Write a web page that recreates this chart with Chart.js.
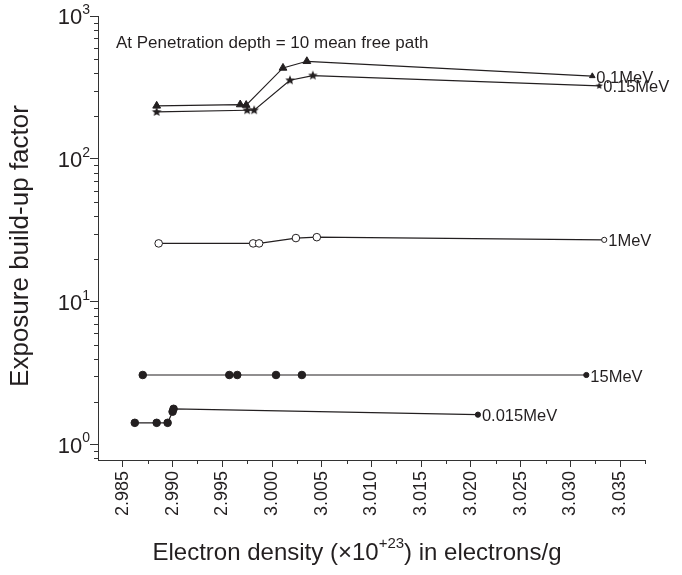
<!DOCTYPE html>
<html>
<head>
<meta charset="utf-8">
<script src="https://cdn.jsdelivr.net/npm/chart.js@4"></script>
<style>
  html, body { margin: 0; background: #fff; }
</style>
</head>
<body>
<canvas id="myChart" width="682" height="575"></canvas>
<script>
const xTicks = [2.985, 2.990, 2.995, 3.000, 3.005, 3.010, 3.015, 3.020, 3.025, 3.030, 3.035];
const yTicks = [1, 10, 100, 1000];
const yTickExp = ['0', '1', '2', '3'];
const yMinor = [0.8, 0.9, 2, 3, 4, 5, 6, 7, 8, 9, 20, 30, 40, 50, 60, 70, 80, 90, 200, 300, 400, 500, 600, 700, 800, 900];

const seriesNames = ['0.1MeV', '0.15MeV', '1MeV', '15MeV', '0.015MeV'];

const x01 = [2.9884, 2.9968, 2.9974, 3.0011, 3.0035, 3.0322];
const y01 = [235, 240, 238, 433, 482, 380];

const x015 = [2.9884, 2.9975, 2.9982, 3.0018, 3.0041, 3.0329];
const y015 = [213, 219, 219, 355, 383, 324];

const x1 = [2.9886, 2.9981, 2.9987, 3.0024, 3.0045, 3.0334];
const y1 = [25.6, 25.6, 25.6, 27.9, 28.3, 27.1];

const x15 = [2.9870, 2.9957, 2.9965, 3.0004, 3.0030, 3.0316];
const y15 = [3.07, 3.07, 3.07, 3.07, 3.07, 3.07];

const x0015 = [2.9862, 2.9884, 2.9895, 2.9900, 2.9901, 3.0207];
const y0015 = [1.42, 1.42, 1.42, 1.70, 1.78, 1.62];

const note = 'At Penetration depth = 10 mean free path';

const ink = '#231f20';
const FONT = '"Liberation Sans", Arial, sans-serif';

function starImage(r) {
    const c = document.createElement('canvas');
    const s = Math.ceil(r * 2 + 2);
    c.width = c.height = s;
    const g = c.getContext('2d');
    g.beginPath();
    for (let i = 0; i < 10; i++) {
        const rad = i % 2 ? r * 0.45 : r;
        const ang = -Math.PI / 2 + i * Math.PI / 5;
        g.lineTo(s / 2 + rad * Math.cos(ang), s / 2 + rad * Math.sin(ang));
    }
    g.closePath();
    g.fillStyle = ink;
    g.fill();
    return c;
}
const starBig = starImage(5);
const starSmall = starImage(3.8);

function pts(xs, ys) {
    return xs.map((v, i) => ({ x: v, y: ys[i] }));
}

const isLast = (ctx) => ctx.dataIndex === ctx.dataset.data.length - 1;

function series(name, xs, ys, style, fill) {
    return {
        label: name,
        data: pts(xs, ys),
        borderColor: ink,
        borderWidth: 1.2,
        pointStyle: style,
        pointBackgroundColor: fill,
        pointBorderColor: ink,
        pointBorderWidth: 1,
        pointRadius: (ctx) => isLast(ctx) ? 2.6 : 3.8,
        tension: 0,
    };
}

const datasets = [
    series(seriesNames[0], x01, y01, 'triangle', ink),
    Object.assign(series(seriesNames[1], x015, y015, 'star', ink),
        { pointStyle: (ctx) => isLast(ctx) ? starSmall : starBig }),
    series(seriesNames[2], x1, y1, 'circle', '#fff'),
    series(seriesNames[3], x15, y15, 'circle', ink),
    series(seriesNames[4], x0015, y0015, 'circle', ink),
];
datasets[0].pointRadius = (ctx) => isLast(ctx) ? 3.2 : 4.5;

// minor ticks, y labels, titles, note and series labels
const extras = {
    id: 'extras',
    afterDraw(chart) {
        const { ctx, chartArea: a, scales: { x, y } } = chart;
        ctx.save();
        ctx.strokeStyle = '#333';
        ctx.lineWidth = 1;
        ctx.beginPath();
        for (let i = 0; i < xTicks.length; i++) {
            const px = Math.round(x.getPixelForValue(xTicks[i] + 0.0025)) + 0.5;
            ctx.moveTo(px, a.bottom);
            ctx.lineTo(px, a.bottom + 4);
        }
        for (const v of yMinor) {
            const py = Math.round(y.getPixelForValue(v)) + 0.5;
            ctx.moveTo(a.left, py);
            ctx.lineTo(a.left - 4, py);
        }
        ctx.stroke();

        ctx.fillStyle = ink;
        ctx.textBaseline = 'middle';
        for (let i = 0; i < yTicks.length; i++) {
            const py = y.getPixelForValue(yTicks[i]);
            ctx.font = '14px ' + FONT;
            ctx.textAlign = 'right';
            const ew = ctx.measureText(yTickExp[i]).width;
            ctx.fillText(yTickExp[i], a.left - 8, py - 6);
            ctx.font = '22px ' + FONT;
            ctx.fillText('10', a.left - 8 - ew, py + 2);
        }

        // y title
        ctx.save();
        ctx.translate(21, 246);
        ctx.rotate(-Math.PI / 2);
        ctx.textAlign = 'center';
        ctx.font = '26px ' + FONT;
        ctx.fillText('Exposure build-up factor', 0, 0);
        ctx.restore();

        // x title with superscript
        const parts = [['Electron density (\u00d710', 24, 0], ['+23', 15, -9], [') in electrons/g', 24, 0]];
        let total = 0;
        for (const p of parts) { ctx.font = p[1] + 'px ' + FONT; total += ctx.measureText(p[0]).width; }
        let cx = 357 - total / 2;
        ctx.textAlign = 'left';
        for (const p of parts) {
            ctx.font = p[1] + 'px ' + FONT;
            ctx.fillText(p[0], cx, 553 + p[2]);
            cx += ctx.measureText(p[0]).width;
        }

        // note
        ctx.font = '17px ' + FONT;
        ctx.fillText(note, a.left + 18, a.top + 27);

        // series labels next to last point
        ctx.font = '16.5px ' + FONT;
        chart.data.datasets.forEach((ds, i) => {
            const meta = chart.getDatasetMeta(i);
            const last = meta.data[meta.data.length - 1];
            ctx.fillText(ds.label, last.x + 4, last.y + 2);
        });
        ctx.restore();
    }
};

new Chart('myChart', {
    type: 'line',
    data: { datasets },
    options: {
        responsive: false,
        animation: false,
        layout: { padding: { top: 16, right: 37, left: 0, bottom: 0 } },
        scales: {
            x: {
                type: 'linear',
                min: 2.9825,
                max: 3.0375,
                afterBuildTicks: (s) => { s.ticks = xTicks.map(v => ({ value: v })); },
                afterFit: (s) => { s.height = 115; },
                grid: { drawOnChartArea: false, tickLength: 7, color: '#333' },
                border: { color: '#333', width: 1 },
                ticks: {
                    minRotation: 90,
                    maxRotation: 90,
                    padding: 4,
                    color: ink,
                    font: { family: FONT, size: 18 },
                    callback: (v) => Number(v).toFixed(3),
                },
            },
            y: {
                type: 'logarithmic',
                min: 0.78,
                max: 1000,
                afterBuildTicks: (s) => { s.ticks = yTicks.map(v => ({ value: v })); },
                afterFit: (s) => { s.width = 98; },
                grid: { drawOnChartArea: false, tickLength: 8, color: '#333' },
                border: { color: '#333', width: 1 },
                ticks: { display: false },
            },
        },
        plugins: {
            legend: { display: false },
            tooltip: { enabled: false },
        },
    },
    plugins: [extras],
});
</script>
</body>
</html>
